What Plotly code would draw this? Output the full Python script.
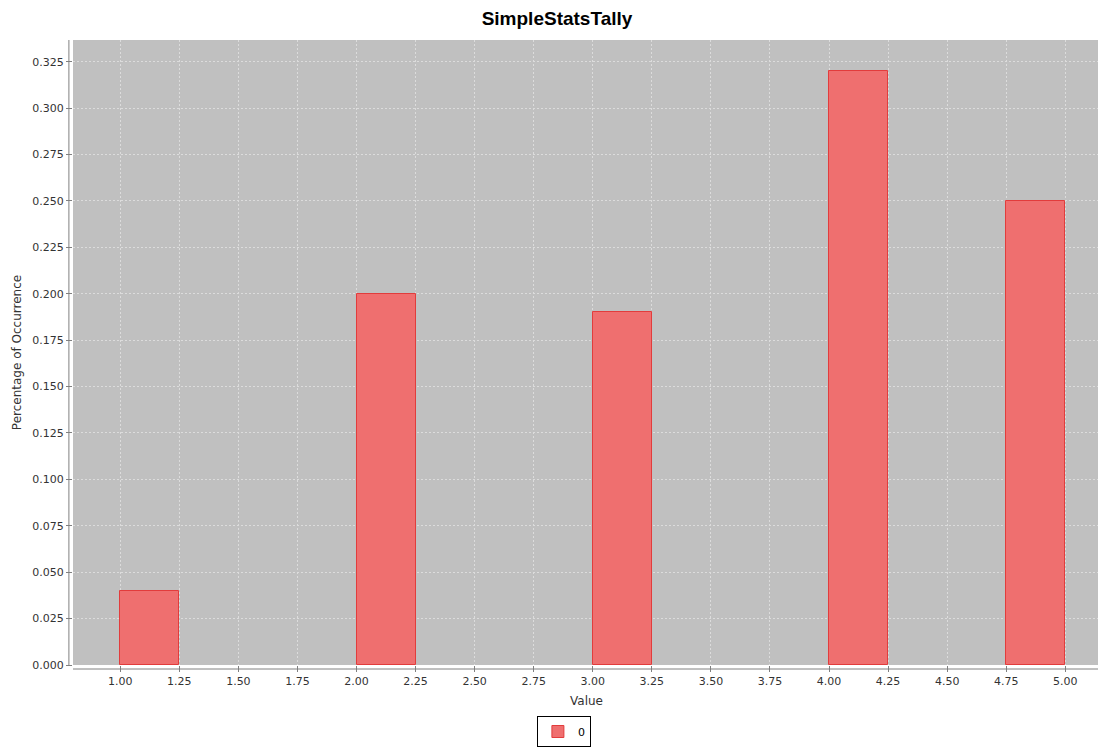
import plotly.graph_objects as go

# histogram bins (left edge, width) and share of occurrences
bin_start = [1.00, 2.00, 3.00, 4.00, 4.75]
bin_width = [0.25, 0.25, 0.25, 0.25, 0.25]
share = [0.04, 0.20, 0.19, 0.32, 0.25]
series_name = "0"

x_ticks = [1.00 + 0.25 * i for i in range(17)]
y_ticks = [0.025 * i for i in range(14)]

centers = [s + w / 2 for s, w in zip(bin_start, bin_width)]

fig = go.Figure()

fig.add_trace(go.Bar(
    x=centers,
    y=share,
    width=bin_width,
    name=series_name,
    marker=dict(color='#ef6f6f', line=dict(color='#e23c3c', width=1)),
    showlegend=True
))

title_font = "Liberation Sans, Arial, sans-serif"
font = "DejaVu Sans, Verdana, sans-serif"

# the page body has an 8px margin, so the figure is shifted by 8px
fig.update_layout(
    width=1098,
    height=739,
    margin=dict(l=65, r=6, t=32, b=82, autoexpand=False),
    paper_bgcolor='white',
    plot_bgcolor='#c0c0c0',
    font=dict(family=font, size=11, color='#333333'),
    title=dict(text='<b>SimpleStatsTally</b>', x=0.5, xanchor='center',
               y=1 - 10 / 739, yanchor='middle',
               font=dict(family=title_font, size=19, color='black')),
    bargap=0,
    xaxis=dict(
        range=[0.80, 5.147],
        tickvals=x_ticks,
        ticktext=[f"{v:.2f}" for v in x_ticks],
        ticks='outside', ticklen=6, tickcolor='#808080',
        showgrid=True, gridcolor='#dcdcdc', griddash='2px,2px', gridwidth=1,
        zeroline=False, showline=False, automargin=False,
        title=dict(text='Value', font=dict(family=font, size=12, color='#333333'), standoff=9),
        tickfont=dict(family=font, size=11, color='#333333'),
    ),
    yaxis=dict(
        range=[0, 0.3367],
        tickvals=y_ticks,
        ticktext=[f"{v:.3f}" for v in y_ticks],
        ticks='outside', ticklen=6, tickcolor='#808080',
        showgrid=True, gridcolor='#dcdcdc', griddash='2px,2px', gridwidth=1,
        zeroline=False, showline=False, automargin=False,
        title=dict(text='Percentage of Occurrence', font=dict(family=font, size=12, color='#333333'), standoff=8),
        tickfont=dict(family=font, size=11, color='#333333'),
    ),
    legend=dict(
        orientation='h', x=0.478, xanchor='center', y=-0.0816, yanchor='top',
        bordercolor='black', borderwidth=1, bgcolor='white',
        font=dict(family=font, size=11, color='black'),
        itemwidth=30,
    ),
    shapes=[
        # offset axis lines like the original
        dict(type='line', xref='paper', yref='paper', x0=-0.004, x1=-0.004, y0=0, y1=1,
             line=dict(color='#808080', width=1)),
        dict(type='line', xref='paper', yref='paper', x0=0, x1=1, y0=-0.0064, y1=-0.0064,
             line=dict(color='#808080', width=1)),
    ],
)

fig.write_html("out.html")
